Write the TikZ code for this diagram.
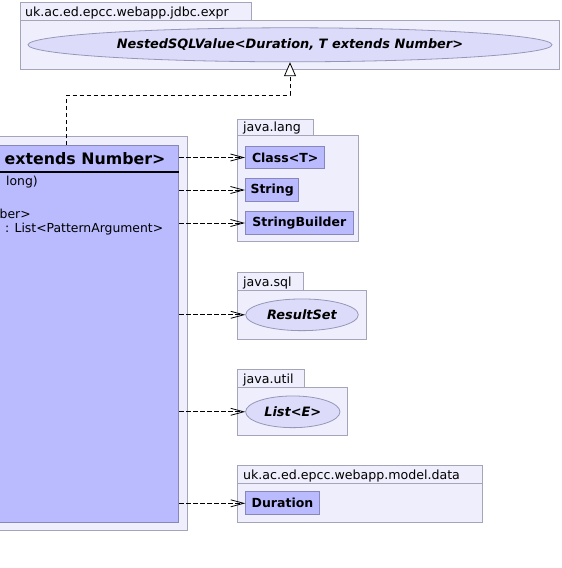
\documentclass[tikz,border=0pt]{standalone}
\usepackage{fontspec}
\setmainfont{DejaVu Sans}
\usetikzlibrary{arrows.meta,shapes.geometric}
\definecolor{pkgfill}{RGB}{238,238,252}
\definecolor{pkgline}{RGB}{165,165,185}
\definecolor{clsfill}{RGB}{186,186,255}
\definecolor{clsline}{RGB}{135,135,185}
\definecolor{iffill}{RGB}{220,220,250}
\definecolor{ifline}{RGB}{150,150,185}
\tikzset{
  pkg/.style={draw=pkgline, fill=pkgfill, line width=1pt},
  pkglabel/.style={anchor=base west, inner sep=0pt, font=\fontsize{12.6}{14}\selectfont},
  clsbox/.style={draw=clsline, fill=clsfill, line width=1pt, inner sep=0pt, font=\fontsize{12.5}{14}\selectfont\bfseries},
  ifbox/.style={ellipse, draw=ifline, fill=iffill, line width=0.8pt, inner sep=0pt, font=\fontsize{12.9}{14}\selectfont\bfseries\itshape},
  attr/.style={anchor=west, inner sep=0pt, font=\fontsize{12.4}{14}\selectfont},
  dep/.style={draw=black, line width=0.8pt, dash pattern=on 4.5pt off 2.5pt, -{Straight Barb[length=13pt,width=7pt]}},
  realize/.style={draw=black, line width=0.8pt, dash pattern=on 4.5pt off 2.5pt, -{Triangle[open,length=14pt,width=12pt,fill=white]}}
}
\begin{document}
\begin{tikzpicture}[x=1pt,y=-1pt]
\useasboundingbox (0,0) rectangle (562,568);

% top package
\draw[pkg] (20,2.7) rectangle (251,20.7);
\draw[pkg] (20,20.7) rectangle (559.3,69);
\node[pkglabel] (lblexpr) at (25,16.7) {uk.ac.ed.epcc.webapp.jdbc.expr};
\node[ifbox, minimum width=524pt, minimum height=34pt] (nested) at (290,44.8) {NestedSQLValue<Duration, T extends Number>};

% left package frame and main class
\draw[pkg] (-5,136.7) rectangle (187.7,530);
\node[clsbox, anchor=north east, minimum width=194pt, minimum height=377pt] (main) at (179.3,145) {};
\draw[black, line width=1.6pt] (-10,172) -- (178.8,172);
\node[anchor=west, inner sep=0pt, font=\fontsize{15.8}{17}\selectfont\bfseries] (hdr) at (4.5,158.5) {extends Number>};
\node[attr] (a1) at (6,182) {long)};
\node[attr] (a2) at (-0.5,214) {ber>};
\node[attr] (a3) at (5,229) {: List<PatternArgument>};

% java.lang
\draw[pkg] (237.3,119.3) rectangle (313.3,135);
\draw[pkg] (237.3,135) rectangle (358.3,241.7);
\node[pkglabel] (lbllang) at (243,131) {java.lang};
\node[clsbox, anchor=north west, minimum width=79.3pt, minimum height=22.6pt] (classT) at (245,145.7) {Class<T>};
\node[clsbox, anchor=north west, minimum width=53.3pt, minimum height=22.4pt] (string) at (245,178.3) {String};
\node[clsbox, anchor=north west, minimum width=107.7pt, minimum height=23pt] (sb) at (245,211) {StringBuilder};

% java.sql
\draw[pkg] (237.3,272.3) rectangle (303.3,290.7);
\draw[pkg] (237.3,290.7) rectangle (366.7,339);
\node[pkglabel] (lblsql) at (243,286.7) {java.sql};
\node[ifbox, minimum width=112.6pt, minimum height=31.7pt] (rs) at (302,314.8) {ResultSet};

% java.util
\draw[pkg] (237.3,369.3) rectangle (304,387.3);
\draw[pkg] (237.3,387.3) rectangle (347.3,435);
\node[pkglabel] (lblutil) at (243,383.3) {java.util};
\node[ifbox, minimum width=94.3pt, minimum height=31.7pt] (list) at (292.8,411.8) {List<E>};

% model.data
\draw[pkg] (237.3,465.3) rectangle (482.7,483.3);
\draw[pkg] (237.3,483.3) rectangle (482.7,522);
\node[pkglabel] (lbldata) at (243,479.3) {uk.ac.ed.epcc.webapp.model.data};
\node[clsbox, anchor=north west, minimum width=73.4pt, minimum height=23pt] (dur) at (245.3,491.3) {Duration};

% realization
\coordinate (mtop) at (66.7,145);
\coordinate (bend) at (66.7,95);
\draw[realize] (mtop) -- (bend) -| (nested.south);

% dependencies
\draw[dep] (main.east |- classT.west) -- (classT.west);
\draw[dep] (main.east |- string.west) -- (string.west);
\draw[dep] (main.east |- sb.west) -- (sb.west);
\draw[dep] (main.east |- rs.west) -- (rs.west);
\draw[dep] (main.east |- list.west) -- (list.west);
\draw[dep] (main.east |- dur.west) -- (dur.west);
\end{tikzpicture}
\end{document}
